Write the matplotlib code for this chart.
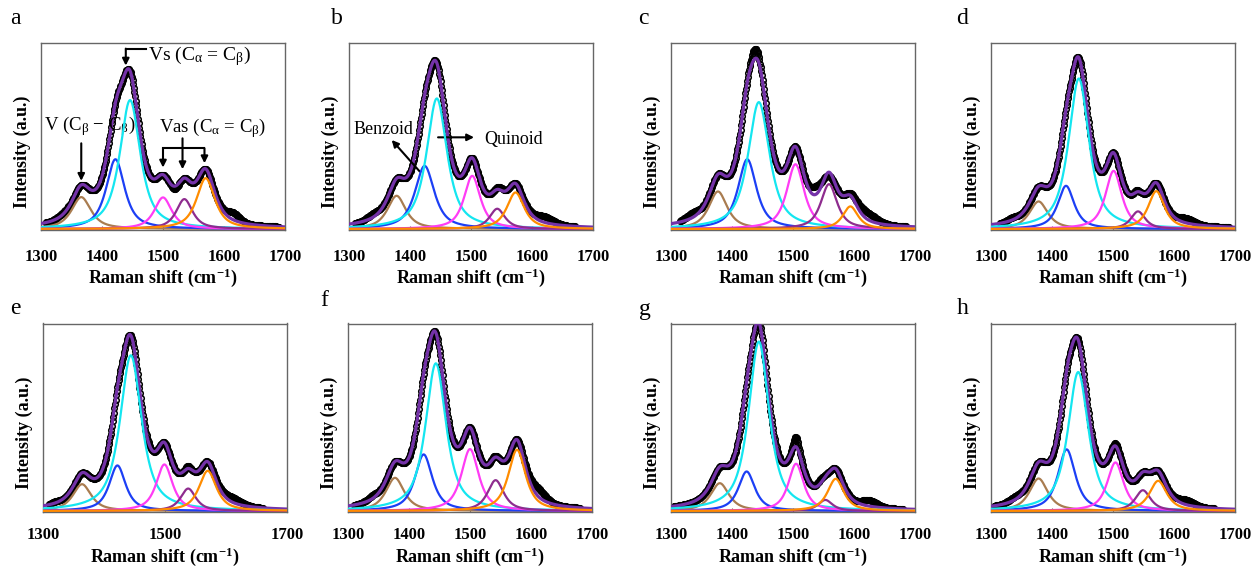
import numpy as np
import matplotlib
matplotlib.use('Agg')
from matplotlib import pyplot as plt

plt.rcParams['font.family'] = ['Liberation Serif', 'DejaVu Serif']
plt.rcParams['mathtext.fontset'] = 'custom'
plt.rcParams['mathtext.rm'] = 'Liberation Serif'
plt.rcParams['mathtext.it'] = 'Liberation Serif:italic'
plt.rcParams['mathtext.bf'] = 'Liberation Serif:bold'

letters = ['a', 'b', 'c', 'd', 'e', 'f', 'g', 'h']
comp_colors = ['#a97c50', '#1c3ff5', '#14e6f0', '#ff3cf5', '#8e2c8e', '#ff8c00']
fit_color = '#7432a8'

# fitted bands per panel: brown, blue, cyan, magenta, purple, orange
centers = [
    [1366, 1422, 1446, 1500, 1535, 1570],
    [1378, 1424, 1444, 1502, 1543, 1573],
    [1377, 1425, 1444, 1504, 1559, 1594],
    [1378, 1423, 1444, 1501, 1541, 1571],
    [1364, 1422, 1444, 1499, 1538, 1570],
    [1377, 1424, 1444, 1500, 1542, 1577],
    [1380, 1424, 1444, 1505, 1553, 1570],
    [1378, 1424, 1443, 1504, 1549, 1574],
]
heights = [
    [96, 210, 388, 95, 90, 153],
    [100, 190, 393, 160, 61, 110],
    [113, 210, 382, 195, 135, 68],
    [83, 130, 453, 175, 53, 114],
    [80, 136, 465, 139, 67, 120],
    [99, 169, 441, 185, 92, 183],
    [83, 118, 506, 141, 33, 96],
    [97, 184, 415, 145, 62, 90],
]
fwhm = [
    [38, 36, 40, 34, 32, 36],
    [36, 38, 40, 32, 30, 34],
    [36, 36, 42, 34, 32, 30],
    [36, 32, 40, 32, 28, 32],
    [36, 32, 42, 32, 30, 34],
    [36, 34, 40, 34, 32, 34],
    [36, 32, 40, 30, 28, 32],
    [36, 34, 40, 32, 30, 34],
]
# parts of the measured spectrum the fit misses: (centre, height, width)
residuals = [
    [(1615, 22, 25), (1520, -8, 12), (1335, 5, 20)],
    [(1340, 12, 25), (1620, 18, 35), (1548, 8, 15)],
    [(1335, 15, 25), (1537, 25, 20), (1620, 22, 40), (1437, 30, 15), (1560, -12, 12)],
    [(1620, 15, 30), (1335, 8, 20), (1538, 6, 8)],
    [(1610, 15, 35), (1320, 5, 15), (1537, 8, 8)],
    [(1612, 25, 30), (1340, 10, 20), (1540, 5, 10)],
    [(1505, 28, 10), (1625, 18, 30), (1545, 12, 15)],
    [(1620, 15, 30), (1340, 10, 25), (1505, 8, 10)],
]
data_range = [(1308, 1690), (1310, 1670), (1315, 1685), (1315, 1690),
              (1310, 1660), (1310, 1680), (1305, 1680), (1305, 1665)]

eta = 0.8
x = np.linspace(1300, 1700, 801)


def band(x, c, h, w):
    lor = 1.0 / (1.0 + ((x - c) / (w / 2.0)) ** 2)
    gau = np.exp(-4 * np.log(2) * ((x - c) / w) ** 2)
    return h * (eta * lor + (1 - eta) * gau)


def bump(x, c, h, w):
    return h * np.exp(-4 * np.log(2) * ((x - c) / w) ** 2)


fig = plt.figure(figsize=(12.54, 5.69), dpi=100)
W, H = 1254, 569
lefts = [[41, 349, 671, 991], [43, 348, 671, 991]]
tops = [43, 323.5]
bottoms = [230, 512]
letter_pos = [(15, 18), (337, 18), (643, 18), (962, 18),
              (15, 308), (324, 300), (645, 310), (963, 308)]

axes = []
for i in range(8):
    r, c = divmod(i, 4)
    ax = fig.add_axes([lefts[r][c] / W, 1 - bottoms[r] / H, 244 / W, (bottoms[r] - tops[r]) / H])
    axes.append(ax)

    comps = [band(x, centers[i][k], heights[i][k], fwhm[i][k]) for k in range(6)]
    env = np.sum(comps, axis=0)
    meas = env.copy()
    for (cc, hh, ww) in residuals[i]:
        meas += bump(x, cc, hh, ww)
    m = (x >= data_range[i][0]) & (x <= data_range[i][1])
    ax.plot(x[m], meas[m], color='black', lw=1.5, zorder=2)
    ax.plot(x[m][::2], meas[m][::2], 'o', ms=4, mfc='none', mec='black', mew=1.1, zorder=2)
    ax.plot(x, env, color=fit_color, lw=2.3, zorder=3)
    for k in range(6):
        ax.plot(x, comps[k], color=comp_colors[k], lw=1.6, zorder=4)

    ax.set_xlim(1300, 1700)
    ax.set_ylim(-3, 560)
    ax.set_yticks([])
    if i == 4:
        ax.set_xticks([1300, 1500, 1700])
    else:
        ax.set_xticks([1300, 1400, 1500, 1600, 1700])
    ax.tick_params(axis='x', direction='in', length=3, width=0.8, color='#666666',
                   labelsize=12, pad=13.5 if r == 0 else 10.5)
    for lab in ax.get_xticklabels():
        lab.set_fontweight('bold')
    for s in ax.spines.values():
        s.set_color('#666666')
        s.set_linewidth(1.0)
    ax.set_xlabel(r'Raman shift (cm$^{\mathbf{-1}}$)', fontsize=13, fontweight='bold',
                  labelpad=1.2 if r == 0 else 2)
    ax.set_ylabel('Intensity (a.u.)', fontsize=13, fontweight='bold')
    ax.yaxis.set_label_coords(-0.04, 0.42)
    fig.text(letter_pos[i][0] / W, 1 - letter_pos[i][1] / H, letters[i], fontsize=17,
             ha='center', va='center')

# annotations, panel a
ax = axes[0]
arr = dict(arrowstyle='-|>', color='black', lw=1.5, mutation_scale=10, shrinkA=0, shrinkB=0)
ax.plot([1439, 1472], [543, 543], color='black', lw=1.5)
ax.annotate('', xy=(1439, 492), xytext=(1439, 543), arrowprops=arr)
ax.text(1475, 522, r'Vs (C$_{\mathrm{\alpha}}$ = C$_{\mathrm{\beta}}$)', fontsize=14, ha='left', va='center')
ax.text(1380, 310, r'V (C$_{\mathrm{\beta}}$ $-$ C$_{\mathrm{\beta}}$)', fontsize=13.5, ha='center', va='center')
ax.annotate('', xy=(1366, 145), xytext=(1366, 258), arrowprops=arr)
ax.text(1582, 303, r'Vas (C$_{\mathrm{\alpha}}$ = C$_{\mathrm{\beta}}$)', fontsize=13.5, ha='center', va='center')
ax.plot([1500, 1568], [243, 243], color='black', lw=1.5)
ax.annotate('', xy=(1500, 185), xytext=(1500, 243), arrowprops=arr)
ax.annotate('', xy=(1532, 180), xytext=(1532, 273), arrowprops=arr)
ax.annotate('', xy=(1568, 198), xytext=(1568, 243), arrowprops=arr)

# annotations, panel b
ax = axes[1]
ax.text(1356, 300, 'Benzoid', fontsize=13, ha='center', va='center')
ax.annotate('', xy=(1370, 268), xytext=(1416, 173), arrowprops=arr)
ax.text(1569, 268, 'Quinoid', fontsize=13, ha='center', va='center')
ax.annotate('', xy=(1505, 276), xytext=(1446, 276), arrowprops=arr)

fig.savefig('out.png', dpi=100)
